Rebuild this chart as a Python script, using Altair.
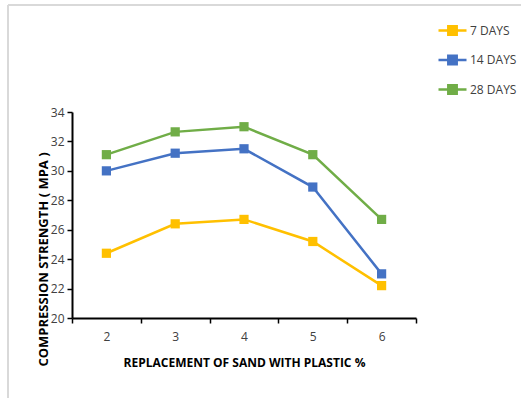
import altair as alt
import pandas as pd

replacement = [2, 3, 4, 5, 6]
days_7 = [24.4, 26.4, 26.7, 25.2, 22.2]
days_14 = [30.0, 31.2, 31.5, 28.9, 23.0]
days_28 = [31.1, 32.65, 33.0, 31.1, 26.7]
series = ["7 DAYS", "14 DAYS", "28 DAYS"]
colors = ["#FFC000", "#4472C4", "#70AD47"]
y_ticks = [20, 22, 24, 26, 28, 30, 32, 34]

rows = []
for name, vals in zip(series, [days_7, days_14, days_28]):
    for x, v in zip(replacement, vals):
        rows.append({"x": x, "value": v, "series": name})
df = pd.DataFrame(rows)

FONT = "Liberation Sans Narrow, Open Sans, sans-serif"

x_enc = alt.X(
    "x:O",
    scale=alt.Scale(type="band", paddingInner=0, paddingOuter=0),
    bandPosition=0.5,
    axis=alt.Axis(
        title="REPLACEMENT OF SAND WITH PLASTIC %",
        labelAngle=0,
        tickBand="extent",
        domainColor="#000000",
        domainWidth=2,
        tickColor="#000000",
        tickWidth=1.5,
        tickSize=5,
        labelFontSize=12,
        labelColor="#404040",
        labelFont=FONT,
        labelPadding=8,
        titleFont=FONT,
        titleFontSize=12,
        titleFontWeight="bold",
        titleColor="#000000",
        titlePadding=15,
        grid=False,
    ),
)
y_enc = alt.Y(
    "value:Q",
    scale=alt.Scale(domain=[20, 34], nice=False, zero=False),
    axis=alt.Axis(
        title="COMPRESSION STRENGTH ( MPA )",
        values=y_ticks,
        domainColor="#000000",
        domainWidth=2,
        tickColor="#000000",
        tickWidth=1.5,
        tickSize=5,
        labelFontSize=12,
        labelColor="#404040",
        labelFont=FONT,
        labelPadding=3,
        titleFont=FONT,
        titleFontSize=13,
        titleFontWeight="bold",
        titleColor="#000000",
        titleX=-29,
        titleY=147,
        titleAlign="center",
        titleBaseline="middle",
        grid=False,
    ),
)
color_enc = alt.Color(
    "series:N",
    sort=series,
    scale=alt.Scale(domain=series, range=colors),
    legend=alt.Legend(
        title=None,
        orient="none",
        legendX=365,
        legendY=-97,
        symbolType="M-1,0H1M-0.3,-0.3H0.3V0.3H-0.3Z",
        symbolSize=784,
        symbolStrokeWidth=2.5,
        labelFontSize=12,
        labelFont=FONT,
        labelColor="#404040",
        labelOffset=2,
        rowPadding=4.5,
        padding=0,
    ),
)

lines = alt.Chart(df).mark_line(
    strokeWidth=2.5,
    point=alt.OverlayMarkDef(shape="square", size=85, filled=True, opacity=1),
).encode(x=x_enc, y=y_enc, color=color_enc)

border_top = alt.Chart(df).mark_rule(color="#d9d9d9", strokeWidth=2).encode(
    x=alt.value(-64), x2=alt.value(449), y=alt.value(-107)
)
border_left = alt.Chart(df).mark_rule(color="#d9d9d9", strokeWidth=2).encode(
    x=alt.value(-64), y=alt.value(-107), y2=alt.value(286)
)

chart = (
    alt.layer(border_top, border_left, lines)
    .properties(
        width=344,
        height=206,
        autosize=alt.AutoSizeParams(type="none"),
        padding={"left": 72, "top": 112, "right": 105, "bottom": 80},
        view=alt.ViewBackground(stroke="transparent", strokeWidth=0),
    )
    .configure_view(strokeWidth=0, stroke="transparent")
    .configure(background="white")
)

chart.save("out.html", embed_options={"renderer": "svg", "actions": False})
